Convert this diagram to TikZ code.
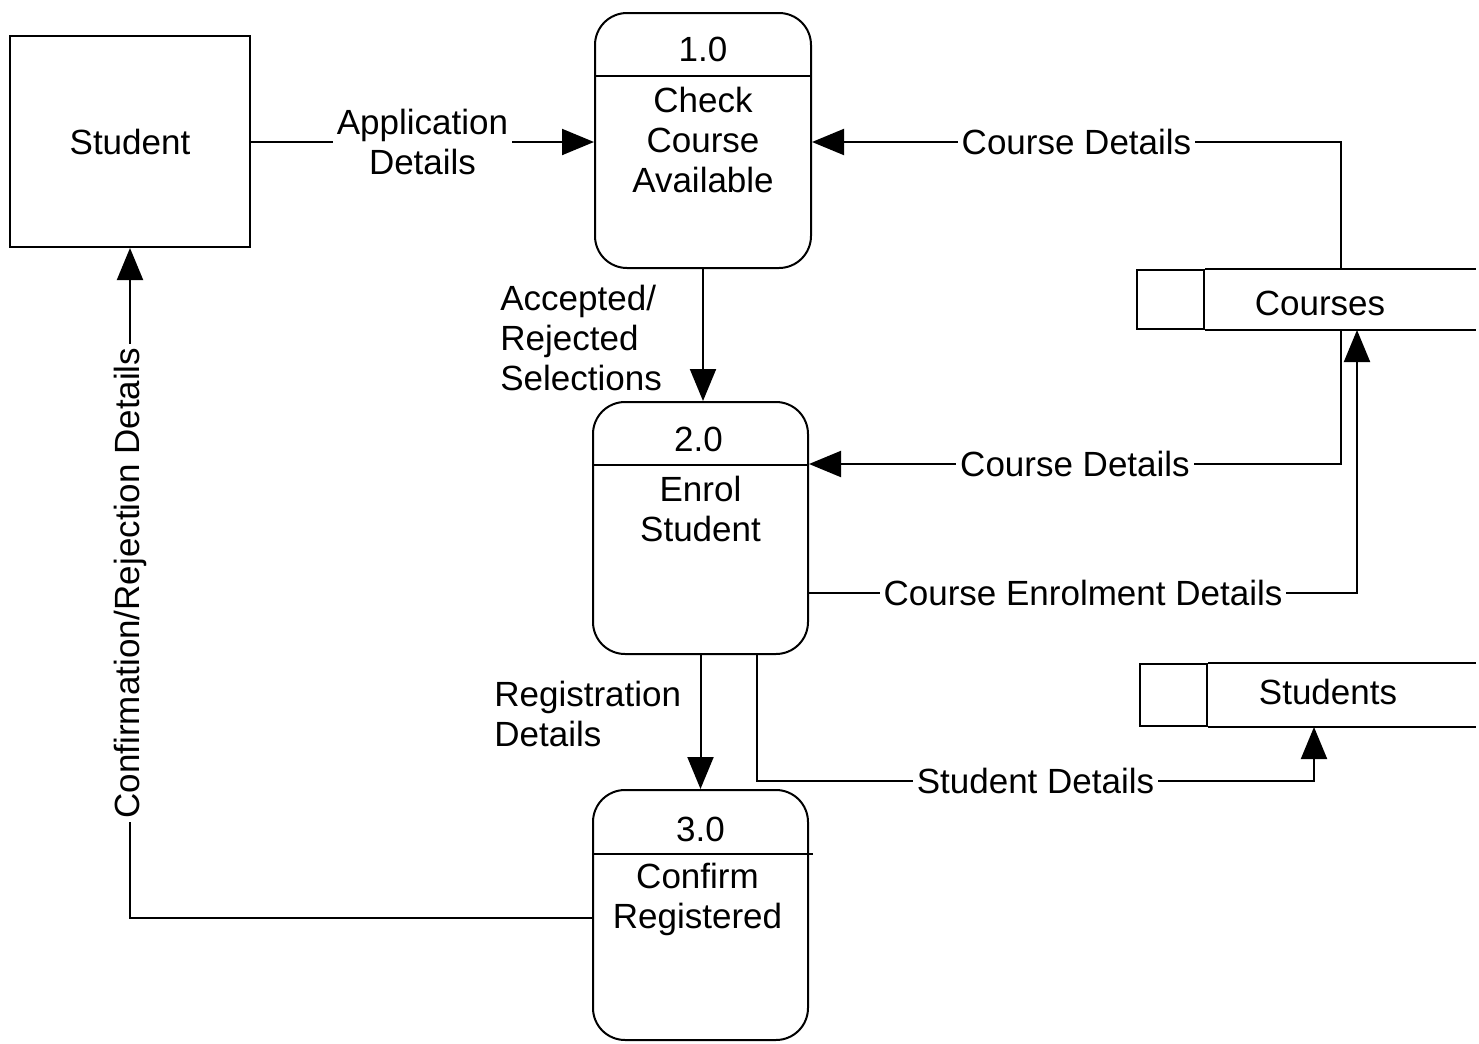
\documentclass[tikz,border=0pt]{standalone}
\usepackage{fontspec}
\setmainfont{Liberation Sans}
\usetikzlibrary{arrows.meta,calc}
\begin{document}
\begin{tikzpicture}[x=0.5pt,y=-0.5pt,
  every node/.style={font=\fontsize{17.5}{20}\selectfont},
  line/.style={line width=1pt},
  flow/.style={line width=1pt,-{Triangle[length=16pt,width=13pt]}},
  entity/.style={draw,line width=1pt,minimum width=120pt,minimum height=105.5pt,inner sep=0pt},
  process/.style={draw,line width=1pt,rounded corners=16pt,minimum width=108pt,inner sep=0pt},
  storeid/.style={draw,line width=1pt,minimum width=33.5pt,inner sep=0pt},
  ptext/.style={align=center,inner sep=0pt},
  flowlabel/.style={fill=white,inner sep=2pt,align=center},
  sidelabel/.style={align=left,inner sep=0pt,anchor=west}
]
\useasboundingbox (0,0) rectangle (1479,1044);

% external entity
\node[entity] (student) at (130,141.5) {Student};

% processes
\node[process,minimum height=127.5pt] (p1) at (703,140.5) {};
\node[process,minimum height=126pt,minimum width=107.5pt] (p2) at (700.5,528) {};
\node[process,minimum height=125pt,minimum width=107.5pt] (p3) at (700.5,915) {};

\draw[line] ($(p1.north west)+(0,64)$) -- ($(p1.north east)+(0,64)$);
\draw[line] ($(p2.north west)+(0,64)$) -- ($(p2.north east)+(0,64)$);
\draw[line] ($(p3.north west)+(0,65)$) -- ($(p3.north east)+(4,65)$);

\node (p1n) at ($(p1.north)+(0,37)$) {1.0};
\node (p2n) at ($(p2.north)+(-2,38)$) {2.0};
\node (p3n) at ($(p3.north)+(0,40)$) {3.0};
\node[ptext] (p1t) at ($(p1.north)+(0,128)$) {Check\\Course\\Available};
\node[ptext] (p2t) at ($(p2.north)+(0,108)$) {Enrol\\Student};
\node[ptext] (p3t) at ($(p3.north)+(-3,110)$) {Confirm\\Registered};

% data stores
\node[storeid,minimum height=29.5pt] (coursesid) at (1170.5,299.5) {};
\draw[line] (coursesid.north east) -- ++(271,0);
\draw[line] (coursesid.south east) -- ++(271,0);
\node (courses) at (1320,303) {Courses};

\node[storeid,minimum height=31pt] (studentsid) at (1173.5,695) {};
\draw[line] (studentsid.north east) -- ++(268,0);
\draw[line] (studentsid.south east) -- ++(268,0);
\node (students) at (1328,692) {Students};

\coordinate (cTop) at ($(coursesid.north east)+(136,0)$);
\coordinate (cBot) at ($(coursesid.south east)+(136,0)$);
\coordinate (cIn) at ($(coursesid.south east)+(152,0)$);
\coordinate (sIn) at ($(studentsid.south east)+(106,0)$);

% data flows
\draw[flow] ($(student.east)+(0,0.5)$) -- node[flowlabel] (fl1) {Application\\Details} ($(student.east -| p1.west)+(0,0.5)$);
\draw[flow] (cTop) |- node[flowlabel,pos=0.75] (fl2) {Course Details} ($(p1.east)+(0,1.5)$);
\draw[flow] (p1.south) -- (p1.south |- p2.north);
\node[sidelabel] (fl3) at (500,338) {Accepted/\\Rejected\\Selections};
\draw[flow] (cBot) |- node[flowlabel,pos=0.75] (fl4) {Course Details} ($(p2.north east)+(0,63)$);
\draw[flow] ($(p2.south east)+(0,-62)$) -| node[flowlabel,pos=0.25] (fl5) {Course Enrolment Details} (cIn);
\draw[flow] (p2.south) -- (p3.north);
\node[sidelabel] (fl6) at (494,714) {Registration\\Details};
\draw[flow] ($(p2.south)+(56.5,0)$) -- ++(0,126) -| node[flowlabel,pos=0.25] (fl7) {Student Details} (sIn);
\draw[flow] ($(p3.west)+(0,3)$) -| node[flowlabel,pos=0.75,rotate=90] (fl8) {Confirmation/Rejection Details} (student.south);
\end{tikzpicture}
\end{document}
